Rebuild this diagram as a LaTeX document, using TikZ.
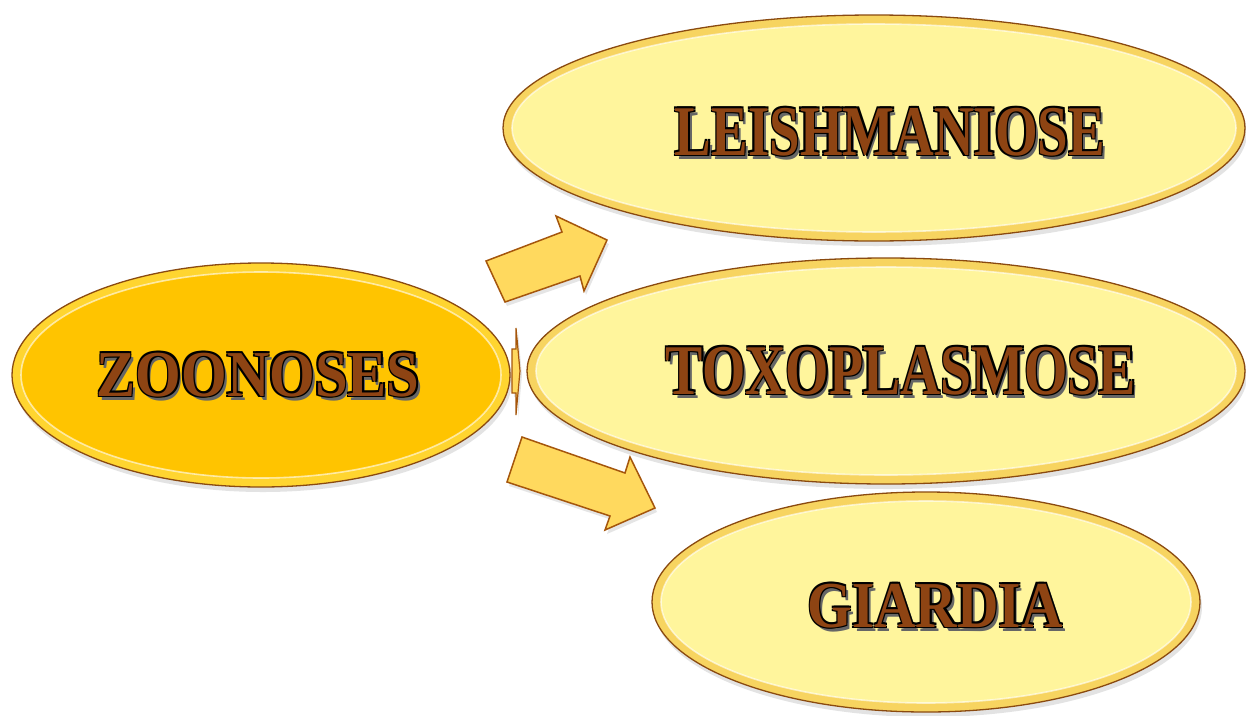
\documentclass[tikz,border=0pt]{standalone}
\usepackage{fontspec}
\setmainfont{Liberation Serif}
\usepackage{graphicx}
\usetikzlibrary{shapes.geometric,shadows}
\definecolor{txtbrown}{HTML}{8E4413}
\definecolor{rimline}{HTML}{8A4A10}
\definecolor{zrimc}{HTML}{FFD530}
\definecolor{zinnerc}{HTML}{FFC400}
\definecolor{primc}{HTML}{F7D460}
\definecolor{pinnerc}{HTML}{FFF59C}
\definecolor{arrfill}{HTML}{FFD95E}
\definecolor{arrline}{HTML}{A5560C}
\newcommand\otxt[1]{%
  \rlap{\kern1.1pt\raisebox{-1.2pt}{\color{black!60}#1}}%
  \rlap{\kern.5pt\raisebox{.5pt}{\color{black}#1}}%
  \rlap{\kern-.5pt\raisebox{.5pt}{\color{black}#1}}%
  \rlap{\kern.5pt\raisebox{-.5pt}{\color{black}#1}}%
  \rlap{\kern-.5pt\raisebox{-.5pt}{\color{black}#1}}%
  {\color{txtbrown}#1}}
\begin{document}
\begin{tikzpicture}[x=1pt,y=-1pt,
  ovl/.style n args={6}{ellipse, inner sep=0pt,
    minimum width=#1, minimum height=#2,
    draw=rimline, line width=1.3pt, fill=#3,
    drop shadow={opacity=.22, shadow xshift=2pt, shadow yshift=-5pt},
    path picture={
      \fill[fill=#4] (path picture bounding box.center) ellipse [x radius=#5, y radius=#6];
      \draw[white, opacity=.6, line width=1.6pt] (path picture bounding box.center) ellipse [x radius=#5, y radius=#6];
    }},
  lbl/.style={inner sep=0pt, font=\fontsize{20pt}{20pt}\selectfont\bfseries},
  blk/.style={fill=arrfill, draw=arrline, line width=1.5pt, line join=miter,
    drop shadow={opacity=.2, shadow xshift=2pt, shadow yshift=-4pt}}]
\useasboundingbox[fill=white] (0,0) rectangle (1246,715);

% ellipses
\node[ovl={498pt}{224pt}{zrimc}{zinnerc}{240}{103}] (zoo) at (261,375) {};
\node[ovl={742pt}{226pt}{primc}{pinnerc}{362}{104}] (lei) at (874,128) {};
\node[ovl={718pt}{226pt}{primc}{pinnerc}{350}{104}] (tox) at (886,371) {};
\node[ovl={548pt}{220pt}{primc}{pinnerc}{265}{101}] (gia) at (926,602) {};

% block arrows
\draw[blk] (486,261) -- (562,232) -- (556,216) -- (607,240) -- (584,291) -- (580,276) -- (505,302) -- cycle;
\draw[blk] (522,437) -- (625,473) -- (630,457) -- (655,508) -- (605,530) -- (610,516) -- (507,482) -- cycle;
\draw[blk, line width=1.2pt] (512,349) -- (516,349) -- (516,328) -- (520,371) -- (516,415) -- (516,393) -- (512,393) -- cycle;

% labels
\node[lbl] (zt) at (zoo.center) [xshift=-3pt, yshift=-1pt] {\resizebox{323pt}{45pt}{\otxt{ZOONOSES}}};
\node[lbl] (lt) at (890,133) {\resizebox{430pt}{49pt}{\otxt{LEISHMANIOSE}}};
\node[lbl] (tt) at (901,372) {\resizebox{470pt}{49pt}{\otxt{TOXOPLASMOSE}}};
\node[lbl] (gt) at (935,607) {\resizebox{255pt}{45pt}{\otxt{GIARDIA}}};
\end{tikzpicture}
\end{document}
